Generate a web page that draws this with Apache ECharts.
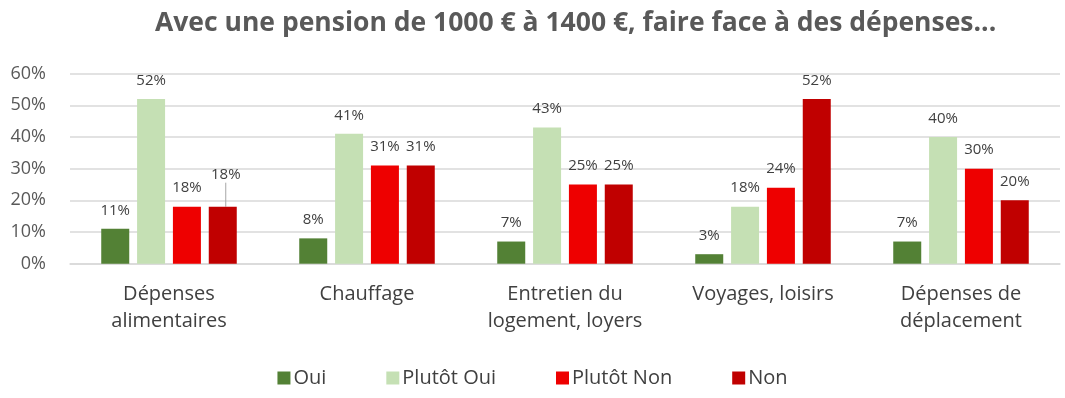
<!DOCTYPE html>
<html>
<head>
<meta charset="utf-8">
<script src="https://cdn.jsdelivr.net/npm/echarts@6/dist/echarts.min.js"></script>
<style>
  html, body { margin: 0; padding: 0; background: #fff; }
  #chart { width: 1065px; height: 398px; }
</style>
</head>
<body>
<div id="chart"></div>
<script>
// categories and answers
var categories = ['Dépenses\nalimentaires', 'Chauffage', 'Entretien du\nlogement, loyers', 'Voyages, loisirs', 'Dépenses de\ndéplacement']
var seriesNames = ['Oui', 'Plutôt Oui', 'Plutôt Non', 'Non']
var oui = [11, 8, 7, 3, 7]
var plutotOui = [52, 41, 43, 18, 40]
var plutotNon = [18, 31, 25, 24, 30]
var non = [18, 31, 25, 52, 20]
var yTicks = [0, 10, 20, 30, 40, 50, 60]

var colors = ['#538135', '#c5e0b4', '#ee0000', '#c00000']
var font = '"Open Sans", "Noto Sans", sans-serif'

var chart = echarts.init(document.getElementById('chart'))

var series = [oui, plutotOui, plutotNon, non].map(function (vals, i) {
  var s = {
    name: seriesNames[i],
    type: 'bar',
    barWidth: 28,
    barGap: '28%',
    data: vals.slice(),
    itemStyle: { color: colors[i] },
    label: {
      show: true,
      position: 'top',
      distance: 11,
      formatter: '{c}%',
      fontFamily: font,
      fontSize: 15,
      color: '#404040'
    }
  }
  if (i === 3) {
    // first label pushed up with a small leader line
    s.data[0] = {
      value: vals[0],
      labelLine: { show: true, lineStyle: { color: '#a6a6a6', width: 1 } }
    }
    s.labelLayout = function (p) {
      if (p.dataIndex === 0) return { dx: 3, dy: -13 }
      return {}
    }
  }
  return s
})

chart.setOption({
  animation: false,
  color: colors,
  title: {
    text: 'Avec une pension de 1000 € à 1400 €, faire face à des dépenses...',
    left: 150,
    top: 5,
    textStyle: { fontFamily: font, fontSize: 26.5, fontWeight: 'bold', color: '#595959' }
  },
  grid: { left: 70, right: 5, top: 73.7, bottom: 134.3, containLabel: false },
  legend: {
    data: seriesNames,
    top: 363,
    left: 'center',
    icon: 'rect',
    itemWidth: 13,
    itemHeight: 13,
    itemGap: 60,
    textStyle: { fontFamily: font, fontSize: 20, color: '#404040', padding: [0, 0, 0, -2] }
  },
  xAxis: {
    type: 'category',
    data: categories,
    axisTick: { show: false },
    axisLine: { lineStyle: { color: '#d9d9d9', width: 1.5 } },
    axisLabel: {
      fontFamily: font,
      fontSize: 20,
      color: '#404040',
      lineHeight: 27,
      margin: 17,
      interval: 0
    }
  },
  yAxis: {
    type: 'value',
    min: yTicks[0],
    max: yTicks[yTicks.length - 1],
    interval: 10,
    axisLine: { show: false },
    axisTick: { show: false },
    splitLine: { lineStyle: { color: '#d9d9d9', width: 1.5 } },
    axisLabel: {
      formatter: '{value}%',
      fontFamily: font,
      fontSize: 18,
      color: '#595959',
      margin: 24
    }
  },
  series: series
})
</script>
</body>
</html>
